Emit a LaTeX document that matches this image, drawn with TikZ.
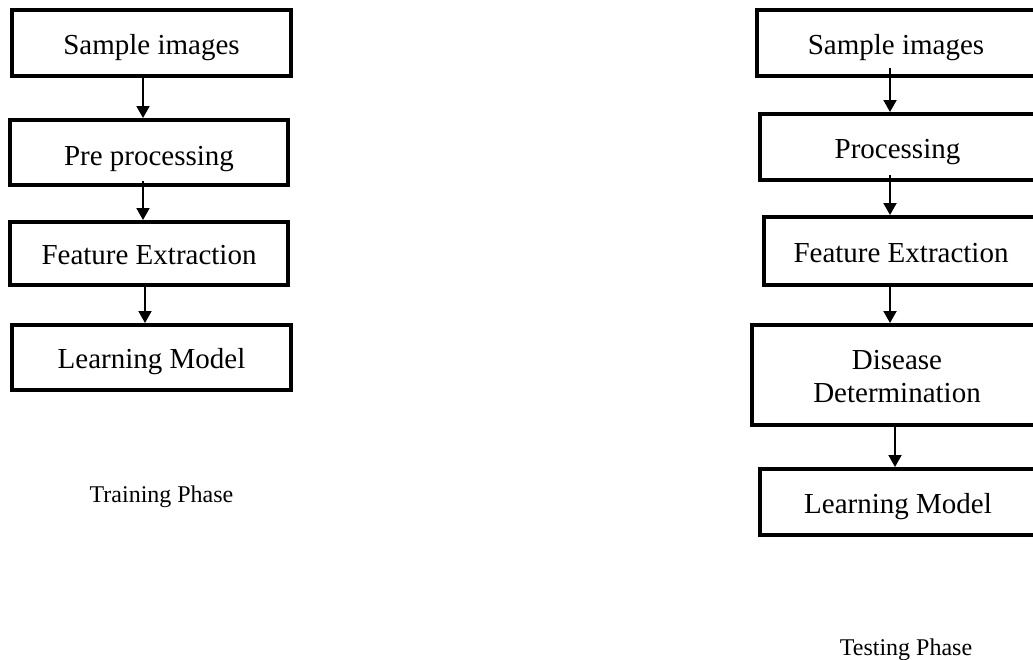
\documentclass[tikz,border=0pt]{standalone}
\usepackage{fontspec}
\setmainfont{Liberation Serif}
\usetikzlibrary{arrows.meta}
\begin{document}
\begin{tikzpicture}[x=1pt,y=-1pt,
  stagebox/.style={draw,line width=4pt,inner sep=0pt,align=center,
    text height=22pt,text depth=0pt,font=\fontsize{29}{33}\selectfont},
  flow/.style={line width=2pt,-{Triangle[width=13pt,length=12pt]}},
  phase/.style={anchor=base,font=\fontsize{24}{28}\selectfont}]
\useasboundingbox (0,0) rectangle (1033,659);
% training
\node [stagebox,minimum width=279pt,minimum height=66pt] (ls1) at (151.5,43) {Sample images};
\node [stagebox,minimum width=278pt,minimum height=65pt,text height=26pt] (ls2) at (149,152.5) {Pre processing};
\node [stagebox,minimum width=278pt,minimum height=63pt] (ls3) at (149,253.5) {Feature Extraction};
\node [stagebox,minimum width=279pt,minimum height=65pt] (ls4) at (151.5,357.5) {Learning Model};
\coordinate (la) at (143,0);
\coordinate (lb) at (145,0);
\draw [flow] (ls1.south -| la) -- (ls2.north -| la);
\draw [flow] ([yshift=6pt]ls2.south -| la) -- (ls3.north -| la);
\draw [flow] ([yshift=4pt]ls3.south -| lb) -- (ls4.north -| lb);
\node [phase] (train) at (161.5,502) {Training Phase};
% testing
\node [stagebox,minimum width=278pt,minimum height=66pt] (rs1) at (896,43) {Sample images};
\node [stagebox,minimum width=275pt,minimum height=66pt] (rs2) at (897.5,147) {Processing};
\node [stagebox,minimum width=274pt,minimum height=68pt] (rs3) at (901,251) {Feature Extraction};
\node [stagebox,minimum width=290pt,minimum height=100pt,text height=55pt] (rs4) at (897,375) {Disease\\Determination};
\node [stagebox,minimum width=276pt,minimum height=66pt] (rs5) at (898,502) {Learning Model};
\coordinate (ra) at (890,0);
\coordinate (rb) at (895,0);
\draw [flow] ([yshift=10pt]rs1.south -| ra) -- (rs2.north -| ra);
\draw [flow] ([yshift=7pt]rs2.south -| ra) -- (rs3.north -| ra);
\draw [flow] (rs3.south -| ra) -- (rs4.north -| ra);
\draw [flow] ([yshift=4pt]rs4.south -| rb) -- (rs5.north -| rb);
\node [phase] (test) at (906,655) {Testing Phase};
\end{tikzpicture}
\end{document}
